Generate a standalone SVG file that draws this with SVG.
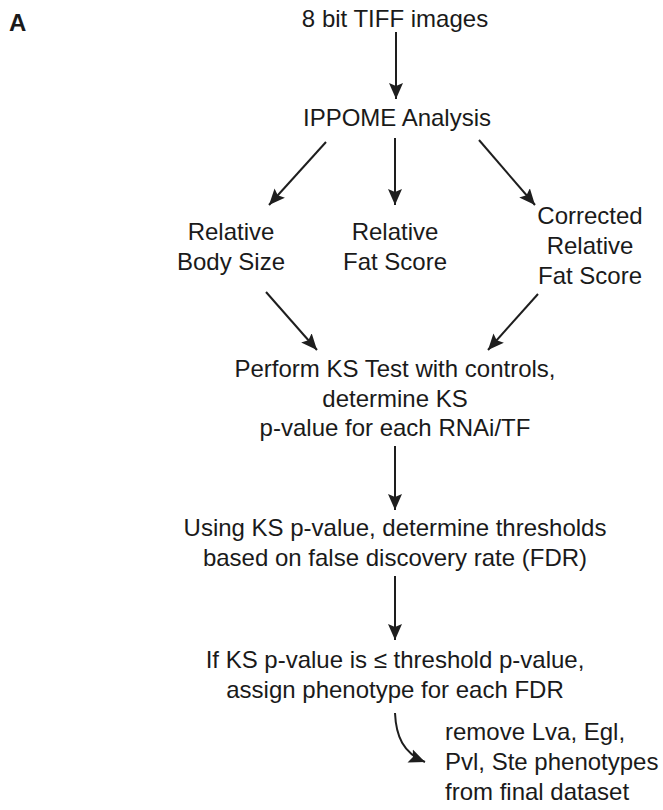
<svg xmlns="http://www.w3.org/2000/svg" width="663" height="810" viewBox="0 0 663 810">
<style>
text{font-family:"Liberation Sans",Arial,sans-serif;font-size:24px;fill:#1a1a1a}
.c{text-anchor:middle}
.lbl{font-weight:bold}
.ln{stroke:#1e1e1e;stroke-width:2;fill:none}
</style>
<defs>
<marker id="ah" markerUnits="userSpaceOnUse" markerWidth="18" markerHeight="16" refX="16" refY="8" orient="auto">
<path d="M0,1 L16,8 L0,15 L3,8 z" fill="#1e1e1e"/>
</marker>
</defs>
<rect width="663" height="810" fill="#fff"/>
<text class="lbl" x="9" y="31">A</text>
<g id="connectors">
<line class="ln" x1="396" y1="32" x2="396" y2="99" marker-end="url(#ah)"/>
<line class="ln" x1="326" y1="142" x2="269" y2="205" marker-end="url(#ah)"/>
<line class="ln" x1="395" y1="138" x2="395" y2="205" marker-end="url(#ah)"/>
<line class="ln" x1="479" y1="140" x2="535" y2="205" marker-end="url(#ah)"/>
<line class="ln" x1="266" y1="292" x2="317" y2="350" marker-end="url(#ah)"/>
<line class="ln" x1="538" y1="294" x2="488" y2="350" marker-end="url(#ah)"/>
<line class="ln" x1="395" y1="446" x2="395" y2="510" marker-end="url(#ah)"/>
<line class="ln" x1="395" y1="576" x2="395" y2="640" marker-end="url(#ah)"/>
<path class="ln" d="M395,713 C396,736 403,753 425,762" marker-end="url(#ah)"/>
</g>
<g id="n-tiff"><text class="c" x="395" y="27">8 bit TIFF images</text></g>
<g id="n-ippome"><text class="c" x="397" y="126">IPPOME Analysis</text></g>
<g id="n-body"><text class="c" x="231" y="240">Relative</text><text class="c" x="231" y="270">Body Size</text></g>
<g id="n-fat"><text class="c" x="395" y="240">Relative</text><text class="c" x="395" y="270">Fat Score</text></g>
<g id="n-corr"><text class="c" x="590" y="224">Corrected</text><text class="c" x="590" y="254">Relative</text><text class="c" x="590" y="284">Fat Score</text></g>
<g id="n-ks"><text class="c" x="395" y="377">Perform KS Test with controls,</text><text class="c" x="395" y="407">determine KS</text><text class="c" x="395" y="436">p-value for each RNAi/TF</text></g>
<g id="n-fdr"><text class="c" x="395" y="536">Using KS p-value, determine thresholds</text><text class="c" x="395" y="566">based on false discovery rate (FDR)</text></g>
<g id="n-assign"><text class="c" x="395" y="668">If KS p-value is ≤ threshold p-value,</text><text class="c" x="395" y="698">assign phenotype for each FDR</text></g>
<g id="n-remove"><text x="445" y="740">remove Lva, Egl,</text><text x="445" y="770">Pvl, Ste phenotypes</text><text x="445" y="800">from final dataset</text></g>
</svg>
